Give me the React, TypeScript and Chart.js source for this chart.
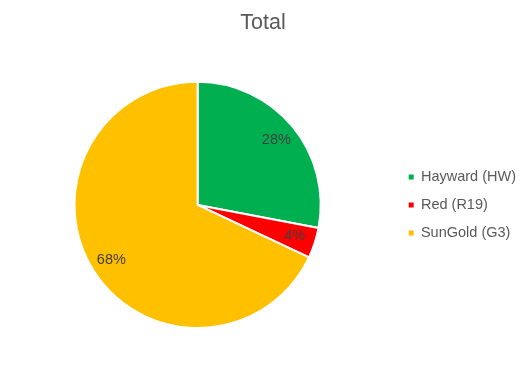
import React, { useEffect, useRef } from "react";
import { Chart, registerables } from "chart.js";

Chart.register(...registerables);

const categories = ["Hayward (HW)", "Red (R19)", "SunGold (G3)"];
const values = [28, 4, 68];
const colors = ["#00B050", "#FF0000", "#FFC000"];
const titleText = "Total";
const FONT = "'Liberation Sans', Arial, sans-serif";

const labelPlugin = {
  id: "sliceLabels",
  afterDatasetsDraw(chart: any) {
    const ctx = chart.ctx;
    const meta = chart.getDatasetMeta(0);
    const total = values.reduce((a, b) => a + b, 0);
    ctx.save();
    ctx.font = `14.5px ${FONT}`;
    ctx.fillStyle = "#404040";
    ctx.textAlign = "center";
    ctx.textBaseline = "middle";
    meta.data.forEach((arc: any, i: number) => {
      const p = arc.getProps(["x", "y", "startAngle", "endAngle", "outerRadius"], true);
      const mid = (p.startAngle + p.endAngle) / 2;
      const r = p.outerRadius * 0.83;
      const x = p.x + Math.cos(mid) * r;
      const y = p.y + Math.sin(mid) * r;
      ctx.fillText(Math.round((values[i] / total) * 100) + "%", x, y);
    });
    ctx.restore();
  },
};

export default function App() {
  const ref = useRef<HTMLCanvasElement>(null);
  useEffect(() => {
    const chart = new Chart(ref.current!, {
      type: "pie",
      data: {
        labels: categories,
        datasets: [
          {
            data: values,
            backgroundColor: colors,
            borderColor: "#FFFFFF",
            borderWidth: 2,
          },
        ],
      },
      options: {
        responsive: false,
        animation: false,
        layout: { padding: { left: 0, right: 0, top: 0, bottom: 39 } },
        plugins: {
          tooltip: { enabled: false },
          title: {
            display: true,
            text: titleText,
            color: "#595959",
            font: { family: FONT, size: 21.5, weight: "normal" },
            padding: { top: 10, bottom: 45 },
          },
          legend: {
            position: "right",
            fullSize: false,
            labels: {
              boxWidth: 5,
              boxHeight: 5,
              padding: 13.5,
              color: "#595959",
              font: { family: FONT, size: 14.5 },
              generateLabels(chart: any) {
                const items = (Chart as any).overrides.pie.plugins.legend.labels.generateLabels(chart);
                return items.map((it: any) => ({ ...it, lineWidth: 0, strokeStyle: "transparent" }));
              },
            },
          },
        },
      },
      plugins: [labelPlugin],
    });
    return () => chart.destroy();
  }, []);
  return (
    <div style={{ position: "fixed", left: 0, top: 0, width: 526, height: 368, background: "#fff" }}>
      <canvas ref={ref} width={526} height={368} style={{ display: "block" }} />
    </div>
  );
}
